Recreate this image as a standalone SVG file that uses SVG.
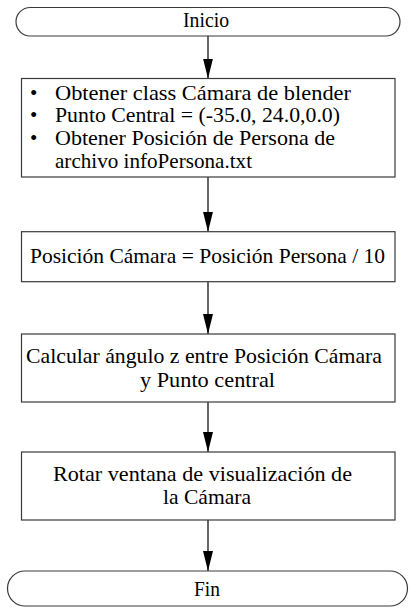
<svg xmlns="http://www.w3.org/2000/svg" width="416" height="615" viewBox="0 0 416 615">
<defs>
<style>
.node{fill:#fff;stroke:#3a3a3a;stroke-width:1.2}
.t{font-family:"Liberation Serif","DejaVu Serif",serif;font-size:21px;fill:#000}
.edge{stroke:#000;stroke-width:1.2;fill:none}
</style>
<marker id="arr" markerWidth="20" markerHeight="10" refX="20" refY="5" orient="auto" markerUnits="userSpaceOnUse" viewBox="0 0 20 10">
<path d="M0,0 L20,5 L0,10 Z" fill="#000"/>
</marker>
</defs>
<rect width="416" height="615" fill="#fff"/>
<g id="connectors">
<line class="edge" x1="208" y1="36" x2="208" y2="78.5" marker-end="url(#arr)"/>
<line class="edge" x1="208" y1="177" x2="208" y2="231.7" marker-end="url(#arr)"/>
<line class="edge" x1="208" y1="281.7" x2="208" y2="334" marker-end="url(#arr)"/>
<line class="edge" x1="208" y1="402" x2="208" y2="452" marker-end="url(#arr)"/>
<line class="edge" x1="208" y1="520" x2="208" y2="571" marker-end="url(#arr)"/>
</g>
<g id="inicio">
<rect class="node" x="16" y="7.5" width="384" height="28.5" rx="14.25" ry="14.25"/>
<text class="t" x="183" y="27" textLength="46" lengthAdjust="spacingAndGlyphs">Inicio</text>
</g>
<g id="step1">
<rect class="node" x="21.5" y="78.5" width="373.5" height="98.5"/>
<text class="t" x="30" y="99.5">•</text>
<text class="t" x="30" y="122">•</text>
<text class="t" x="30" y="145">•</text>
<text class="t" x="55" y="99.5" textLength="296" lengthAdjust="spacingAndGlyphs">Obtener class Cámara de blender</text>
<text class="t" x="55" y="122" textLength="285" lengthAdjust="spacingAndGlyphs">Punto Central = (-35.0, 24.0,0.0)</text>
<text class="t" x="55" y="145" textLength="280" lengthAdjust="spacingAndGlyphs">Obtener Posición de Persona de</text>
<text class="t" x="55" y="168" textLength="197" lengthAdjust="spacingAndGlyphs">archivo infoPersona.txt</text>
</g>
<g id="step2">
<rect class="node" x="21.5" y="231.7" width="373.5" height="50"/>
<text class="t" x="30" y="263" textLength="355" lengthAdjust="spacingAndGlyphs">Posición Cámara = Posición Persona / 10</text>
</g>
<g id="step3">
<rect class="node" x="21.5" y="334" width="373.5" height="68"/>
<text class="t" x="26" y="363" textLength="356" lengthAdjust="spacingAndGlyphs">Calcular ángulo z entre Posición Cámara</text>
<text class="t" x="140" y="386.5" textLength="135" lengthAdjust="spacingAndGlyphs">y Punto central</text>
</g>
<g id="step4">
<rect class="node" x="21.5" y="452" width="373.5" height="68"/>
<text class="t" x="53" y="481" textLength="299" lengthAdjust="spacingAndGlyphs">Rotar ventana de visualización de</text>
<text class="t" x="163" y="504" textLength="88" lengthAdjust="spacingAndGlyphs">la Cámara</text>
</g>
<g id="fin">
<rect class="node" x="7.5" y="571" width="400" height="35" rx="17.5" ry="17.5"/>
<text class="t" x="194" y="596" textLength="26" lengthAdjust="spacingAndGlyphs">Fin</text>
</g>
</svg>
